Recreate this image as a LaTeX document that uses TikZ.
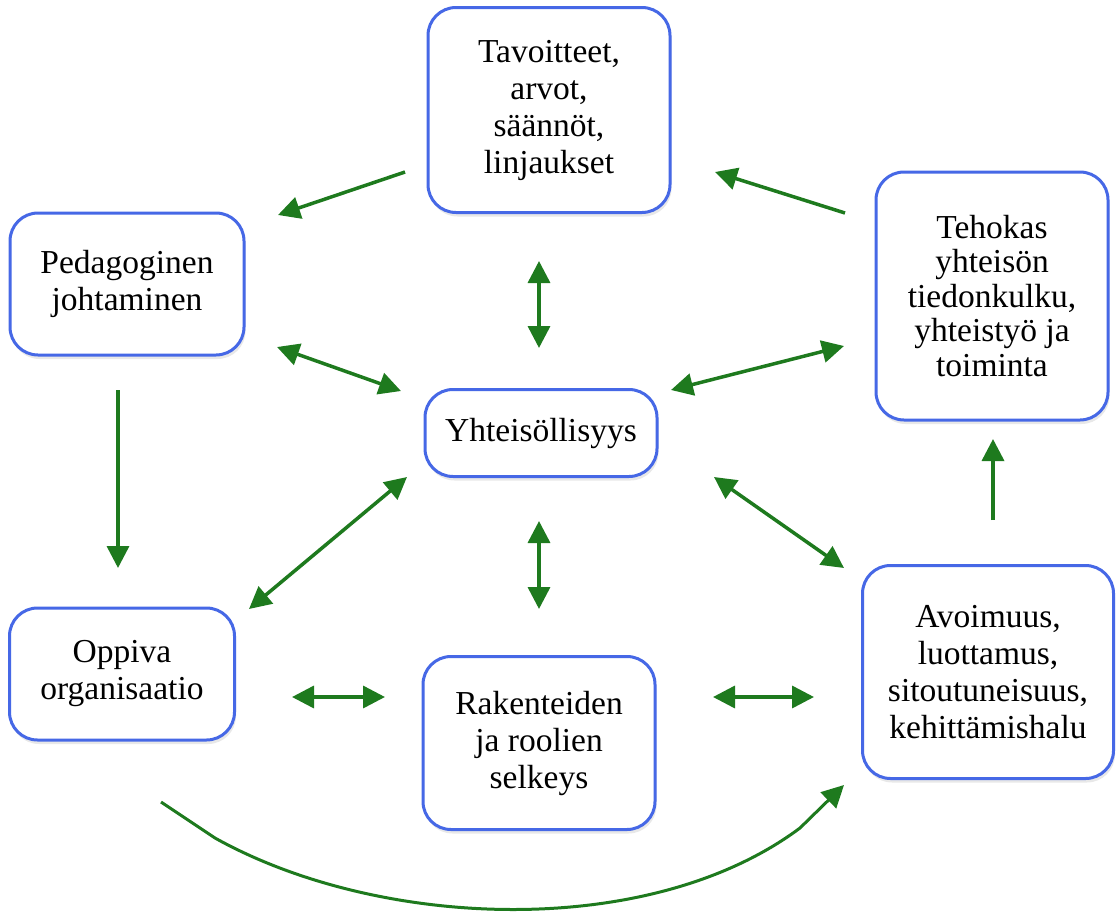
\documentclass[tikz,border=0pt]{standalone}
\usepackage{fontspec}
\setmainfont{Liberation Serif}
\usetikzlibrary{arrows.meta,shadows}
\definecolor{boxblue}{HTML}{4668E6}
\definecolor{arrgreen}{HTML}{1E7A1E}
\tikzset{
  card/.style={draw=boxblue, line width=3pt, rounded corners=28pt, fill=white,
    align=center, inner sep=0pt, font=\fontsize{33.5}{37}\selectfont,
    drop shadow={opacity=0.18, shadow xshift=1.5pt, shadow yshift=-4pt}},
  tight/.style={font=\fontsize{33.5}{34.5}\selectfont},
  link/.style={draw=arrgreen, line width=3.5pt, -{Triangle[length=22pt,width=22pt]}},
  dlink/.style={draw=arrgreen, line width=3.5pt, {Triangle[length=22pt,width=22pt]}-{Triangle[length=22pt,width=22pt]}},
}
\begin{document}
\begin{tikzpicture}[x=1pt,y=-1pt]
\useasboundingbox (0,0) rectangle (1116,918);
\node[card, minimum width=242pt, minimum height=205pt] (tav) at (549,110) {Tavoitteet,\\arvot,\\säännöt,\\linjaukset};
\node[card, minimum width=234pt, minimum height=142pt] (ped) at (127,284) {Pedagoginen\\johtaminen};
\node[card, tight, minimum width=232pt, minimum height=248pt] (teh) at (992,296) {Tehokas\\yhteisön\\tiedonkulku,\\yhteistyö ja\\toiminta};
\node[card, minimum width=232pt, minimum height=87pt] (yht) at (541,433) {Yhteisöllisyys};
\node[card, minimum width=225pt, minimum height=132pt] (opp) at (122,674) {Oppiva\\organisaatio};
\node[card, minimum width=232pt, minimum height=173pt] (rak) at (539,743) {Rakenteiden\\ja roolien\\selkeys};
\node[card, minimum width=251pt, minimum height=213pt] (avo) at (988,672) {Avoimuus,\\luottamus,\\sitoutuneisuus,\\kehittämishalu};

% connector end points
\coordinate (a1s) at (405,172); \coordinate (a1e) at (278,215);
\coordinate (a2s) at (845,213); \coordinate (a2e) at (715,172);
\coordinate (a3s) at (539,261); \coordinate (a3e) at (539,348);
\coordinate (a4s) at (277,347); \coordinate (a4e) at (401,391);
\coordinate (a5s) at (671,390); \coordinate (a5e) at (844,346);
\coordinate (a6s) at (118,390); \coordinate (a6e) at (118,568);
\coordinate (a7s) at (249,609); \coordinate (a7e) at (407,477);
\coordinate (a8s) at (539,521); \coordinate (a8e) at (539,609);
\coordinate (a9s) at (714,477); \coordinate (a9e) at (844,568);
\coordinate (a10s) at (993,520); \coordinate (a10e) at (993,439);
\coordinate (a11s) at (292,697); \coordinate (a11e) at (385,697);
\coordinate (a12s) at (713,697); \coordinate (a12e) at (814,697);
\coordinate (c1) at (161,802); \coordinate (c2) at (215,838);
\coordinate (c3) at (800,828); \coordinate (c4) at (844,785);

\draw[link] (a1s) -- (a1e);
\draw[link] (a2s) -- (a2e);
\draw[dlink] (a3s) -- (a3e);
\draw[dlink] (a4s) -- (a4e);
\draw[dlink] (a5s) -- (a5e);
\draw[link] (a6s) -- (a6e);
\draw[dlink] (a7s) -- (a7e);
\draw[dlink] (a8s) -- (a8e);
\draw[dlink] (a9s) -- (a9e);
\draw[link] (a10s) -- (a10e);
\draw[dlink] (a11s) -- (a11e);
\draw[dlink] (a12s) -- (a12e);
\draw[link, line width=3pt] (c1) -- (c2) .. controls (380,930) and (650,940) .. (c3) -- (c4);
\end{tikzpicture}
\end{document}
